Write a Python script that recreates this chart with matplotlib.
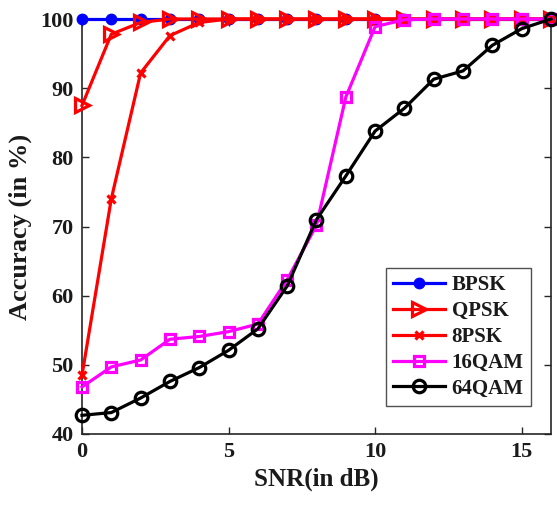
import matplotlib
matplotlib.use("Agg")
import matplotlib.pyplot as plt

snr = list(range(0, 17))
bpsk = [100] * 17
qpsk = [87.5, 97.8, 99.5, 100, 100, 100, 100, 100, 100, 100, 100, 100, 100, 100, 100, 100, 100]
psk8 = [48.5, 74.0, 92.2, 97.6, 99.5, 100, 100, 100, 100, 100, 100, 100, 100, 100, 100, 100, 100]
qam16 = [46.8, 49.7, 50.7, 53.7, 54.1, 54.8, 55.9, 62.3, 70.2, 88.7, 98.9, 99.9, 100, 100, 100, 100, 100]
qam64 = [42.7, 43.1, 45.2, 47.6, 49.6, 52.1, 55.2, 61.4, 71.0, 77.3, 83.8, 87.1, 91.3, 92.5, 96.2, 98.6, 100]

plt.rcParams['font.family'] = ['Liberation Serif', 'DejaVu Serif']
plt.rcParams['font.weight'] = 'bold'

fig = plt.figure(figsize=(5.57, 5.11), dpi=100)
ax = fig.add_axes([0.1472, 0.1507, 0.8420, 0.8121])

lw = 2.3
ax.plot(snr, bpsk, color='#0000ff', marker='o', markersize=7.5, lw=lw, label='BPSK', clip_on=False, zorder=3)
ax.plot(snr, qpsk, color='#ff0000', marker='>', markersize=10, lw=lw, label='QPSK', clip_on=False, zorder=4,
        markerfacecolor='none', markeredgewidth=2.3)
ax.plot(snr, psk8, color='#ff0000', marker='x', markersize=5.5, lw=lw, label='8PSK', clip_on=False, zorder=5,
        markeredgewidth=2.3)
ax.plot(snr, qam16, color='#ff00ff', marker='s', markersize=7, lw=lw, label='16QAM', clip_on=False, zorder=6,
        markerfacecolor='none', markeredgewidth=2.3)
ax.plot(snr, qam64, color='black', marker='o', markersize=9, lw=lw, label='64QAM', clip_on=False, zorder=7,
        markerfacecolor='none', markeredgewidth=2.3)

ax.set_xlim(0, 16)
ax.set_ylim(40, 100)
ax.set_xticks([0, 5, 10, 15])
ax.set_yticks([40, 50, 60, 70, 80, 90, 100])
ax.tick_params(direction='in', length=5, width=1, colors='#262626', labelsize=16, pad=6,
               top=True, right=True, labelcolor='#1a1a1a')
for s in ax.spines.values():
    s.set_color('#262626')
    s.set_linewidth(1.2)

ax.set_xlabel('SNR(in dB)', fontsize=18, fontweight='bold', color='#1a1a1a', labelpad=4)
ax.set_ylabel('Accuracy (in %)', fontsize=19, fontweight='bold', color='#1a1a1a', labelpad=6)

leg = ax.legend(loc='lower right', bbox_to_anchor=(0.957, 0.0675), fontsize=15, frameon=True,
                fancybox=False, edgecolor='#262626', handlelength=2.5, handletextpad=0.3,
                borderpad=0.35, labelspacing=0.28, borderaxespad=0)
leg.get_frame().set_linewidth(1.0)
for t in leg.get_texts():
    t.set_fontweight('bold')
    t.set_color('#1a1a1a')

fig.savefig('out.png', dpi=100)
